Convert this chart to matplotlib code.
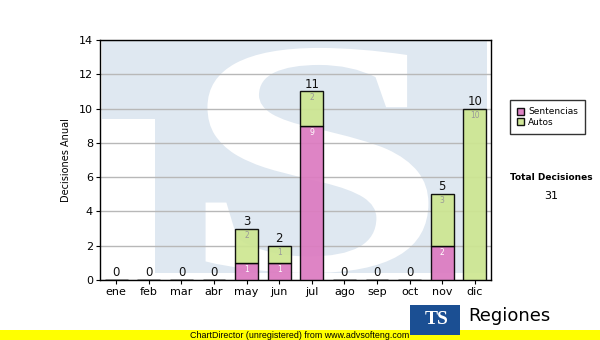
import matplotlib.pyplot as plt
from matplotlib.textpath import TextPath
from matplotlib.patches import PathPatch, Rectangle
from matplotlib.font_manager import FontProperties
from matplotlib.transforms import Affine2D

months = ["ene", "feb", "mar", "abr", "may", "jun", "jul", "ago", "sep", "oct", "nov", "dic"]
sentencias = [0, 0, 0, 0, 1, 1, 9, 0, 0, 0, 2, 0]
autos = [0, 0, 0, 0, 2, 1, 2, 0, 0, 0, 3, 10]
total_label = "Total Decisiones"

pink = "#dc7ac0"
green = "#cde691"

fig = plt.figure(figsize=(6, 3.4), dpi=100)
ax = fig.add_axes([100 / 600, 60 / 340, 391 / 600, 240 / 340])

# watermark: light blue block with white "TS" shape
ax.add_patch(Rectangle((0.005, 0.029), 0.985, 0.971, transform=ax.transAxes,
                       facecolor="#dfe8f1", edgecolor="none", zorder=0.1))
ax.add_patch(Rectangle((0.005, 0.029), 0.135, 0.64, transform=ax.transAxes,
                       facecolor="white", edgecolor="none", zorder=0.2))
tp = TextPath((0, 0), "S", size=1, prop=FontProperties(family="Liberation Serif", weight="bold"))
ext = tp.get_extents()
x0, x1, y0, y1 = 0.27, 0.84, 0.029, 0.967
tr = Affine2D().translate(-ext.x0, -ext.y0).scale((x1 - x0) / ext.width, (y1 - y0) / ext.height).translate(x0, y0)
ax.add_patch(PathPatch(tr.transform_path(tp), transform=ax.transAxes,
                       facecolor="white", edgecolor="none", zorder=0.2))

x = list(range(len(months)))
ax.bar(x, sentencias, width=0.7, color=pink, edgecolor="black", linewidth=1, alpha=0.92,
       label="Sentencias", zorder=3)
ax.bar(x, autos, width=0.7, bottom=sentencias, color=green, edgecolor="black", linewidth=1,
       alpha=0.92, label="Autos", zorder=3)

for i in x:
    s, a = sentencias[i], autos[i]
    ax.text(i, s + a + 0.05, str(s + a), ha="center", va="bottom", fontsize=8.5, color="#111111", zorder=4)
    if s > 0:
        ax.text(i, s - 0.12, str(s), ha="center", va="top", fontsize=5.5, color="white", zorder=4)
    if a > 0:
        ax.text(i, s + a - 0.12, str(a), ha="center", va="top", fontsize=5.5, color="#999999", zorder=4)

ax.set_xlim(-0.5, 11.5)
ax.set_ylim(0, 14)
ax.set_yticks(range(0, 15, 2))
ax.set_xticks(x)
ax.set_xticklabels(months)
ax.tick_params(labelsize=8, length=3, width=0.8, pad=2)
ax.yaxis.grid(True, color="#b8b8b8", linewidth=1)
ax.set_axisbelow(True)
for sp in ax.spines.values():
    sp.set_color("black")
    sp.set_linewidth(1)
ax.set_ylabel("Decisiones Anual", fontsize=7, labelpad=6)

fig.legend(loc="upper left", bbox_to_anchor=(510 / 600, 1 - 100 / 340), fontsize=6.5,
           frameon=True, fancybox=False, edgecolor="black", handlelength=0.8, handleheight=0.8,
           handletextpad=0.4, borderpad=0.8, labelspacing=0.2, borderaxespad=0)

fig.text(551 / 600, 1 - 178 / 340, total_label, ha="center", va="center", fontsize=6.5, fontweight="bold")
fig.text(551 / 600, 1 - 196 / 340, "31", ha="center", va="center", fontsize=8)

# footer
fig.patches.append(Rectangle((0, 0), 1, 10 / 340, transform=fig.transFigure,
                             facecolor="#ffff00", edgecolor="none", zorder=1))
fig.text(190 / 600, 5 / 340, "ChartDirector (unregistered) from www.advsofteng.com",
         ha="left", va="center", fontsize=6.4, family="Liberation Sans", zorder=3)
fig.patches.append(Rectangle((410 / 600, 5 / 340), 50 / 600, 30 / 340, transform=fig.transFigure,
                             facecolor="#1b4f93", edgecolor="none", zorder=2))
fig.text(437 / 600, 20 / 340, "TS", ha="center", va="center", fontsize=14, fontweight="bold",
         color="white", family="Liberation Serif", zorder=3)
fig.text(468 / 600, 24 / 340, "Regiones", ha="left", va="center", fontsize=13, zorder=3)

fig.savefig("out.png", dpi=100)
